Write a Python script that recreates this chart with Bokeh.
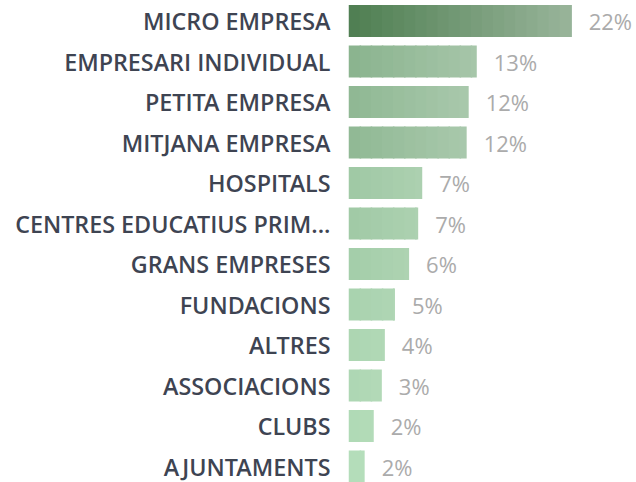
import math
from bokeh.plotting import figure
from bokeh.models import ColumnDataSource, Range1d, FixedTicker
from bokeh.core.properties import value
from bokeh.embed import file_html
from bokeh.resources import INLINE

categories = [
    "MICRO EMPRESA", "EMPRESARI INDIVIDUAL", "PETITA EMPRESA", "MITJANA EMPRESA",
    "HOSPITALS", "CENTRES EDUCATIUS PRIM...", "GRANS EMPRESES", "FUNDACIONS",
    "ALTRES", "ASSOCIACIONS", "CLUBS", "AJUNTAMENTS",
]
shares = [22.1, 12.7, 11.9, 11.7, 7.3, 6.9, 6.0, 4.6, 3.6, 3.3, 2.5, 1.6]

FONT = "Open Sans"
LABEL_FONT = "'Open Sans SemiBold', 'Open Sans'"
C_MIN = (179, 221, 185)
C_MID = (143, 184, 147)
C_MAX = (78, 126, 81)


def mix(a, b, t):
    return tuple(a[k] + (b[k] - a[k]) * t for k in range(3))


def scale_color(v):
    lo, hi = min(shares), max(shares)
    mid = (lo + hi) / 2
    if v <= mid:
        return mix(C_MIN, C_MID, (v - lo) / (mid - lo))
    return mix(C_MID, C_MAX, (v - mid) / (hi - mid))


def hexc(c):
    return "#%02x%02x%02x" % tuple(int(round(x)) for x in c)


# striped gradient bars
stripe_w = 1.1
overlap = 0.15
sl, sr, st, sb, sc = [], [], [], [], []
bar_h = 0.79
for i, v in enumerate(shares):
    base = scale_color(v)
    end = mix(base, (255, 255, 255), 0.02 * v)
    n = max(1, math.ceil(v / stripe_w))
    for k in range(n):
        x0 = k * stripe_w
        x1 = min(v, (k + 1) * stripe_w + overlap)
        sl.append(x0)
        sr.append(x1)
        st.append(i - bar_h / 2)
        sb.append(i + bar_h / 2)
        sc.append(hexc(mix(base, end, (k + 0.5) / n)))

stripes = ColumnDataSource(dict(left=sl, right=sr, top=st, bottom=sb, color=sc))
labels = ColumnDataSource(dict(
    x=shares, y=list(range(len(shares))),
    text=[f"{round(v)}%" for v in shares],
))

W, H = 636, 482
px_per_unit_y = 40.5
top_val = -20.5 / px_per_unit_y
bottom_val = top_val + H / px_per_unit_y
px_per_pct = 10.1
left_border = 348

p = figure(
    width=W, height=H, output_backend="svg", toolbar_location=None,
    x_axis_location=None,
    x_range=Range1d(0, (W - left_border) / px_per_pct),
    y_range=Range1d(bottom_val, top_val),
    min_border_left=left_border, min_border_right=0,
    min_border_top=0, min_border_bottom=0,
)
p.outline_line_color = None
p.xgrid.visible = False
p.ygrid.visible = False
p.background_fill_color = "white"
p.border_fill_color = "white"

p.quad(left="left", right="right", top="top", bottom="bottom",
       fill_color="color", line_color=None, source=stripes)

p.text(x="x", y="y", text="text", source=labels, x_offset=17,
       text_baseline="middle", text_align="left",
       text_font=value(FONT), text_font_size="22px", text_color="#ababab")

ax = p.yaxis[0]
ax.ticker = FixedTicker(ticks=list(range(len(categories))))
ax.major_label_overrides = {i: c for i, c in enumerate(categories)}
ax.axis_line_color = None
ax.major_tick_line_color = None
ax.minor_tick_line_color = None
ax.major_label_standoff = 12
ax.major_label_text_font = LABEL_FONT
ax.major_label_text_font_size = "23.3px"
ax.major_label_text_color = "#3e4452"

open("out.html", "w").write(file_html(p, INLINE))
